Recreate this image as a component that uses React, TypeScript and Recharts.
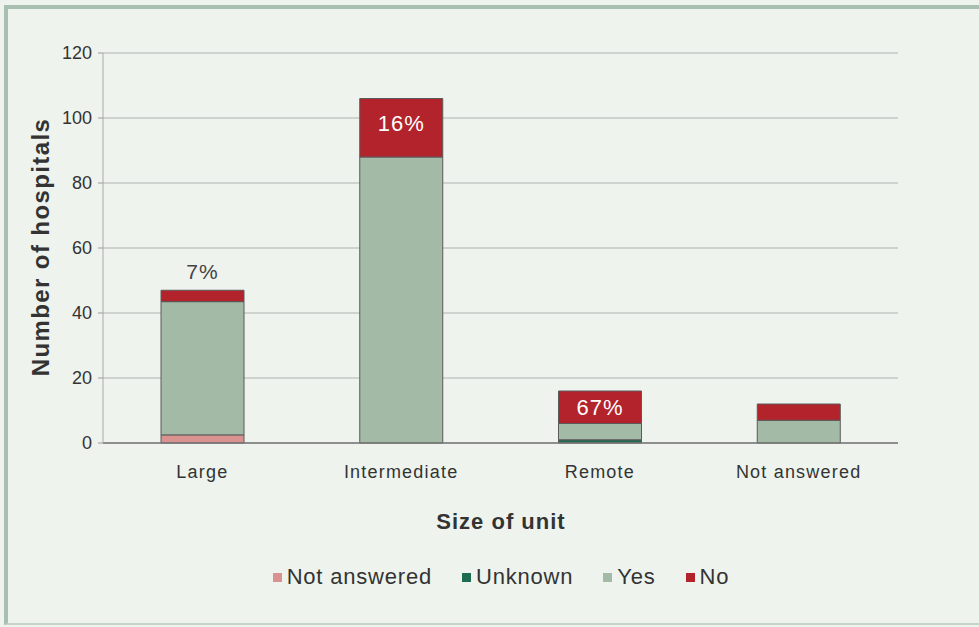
import React from "react";
import { BarChart, Bar, XAxis, YAxis, CartesianGrid, LabelList } from "recharts";

const categories = ["Large", "Intermediate", "Remote", "Not answered"];
const notAnswered = [2.5, 0, 0, 0];
const unknown = [0, 0, 1, 0];
const yes = [41, 88, 5, 7];
const no = [3.5, 18, 10, 5];
const noPct = ["7%", "16%", "67%", ""];
const yTicks = [0, 20, 40, 60, 80, 100, 120];

const series = [
  { key: "notAnswered", name: "Not answered", color: "#d9928f" },
  { key: "unknown", name: "Unknown", color: "#1f6b4f" },
  { key: "yes", name: "Yes", color: "#a2baa6" },
  { key: "no", name: "No", color: "#b3232c" },
];

const data = categories.map((name, i) => ({
  name,
  notAnswered: notAnswered[i],
  unknown: unknown[i],
  yes: yes[i],
  no: no[i],
  pct: noPct[i],
}));

const FONT = "'Liberation Sans', Arial, sans-serif";
const TEXT = "#333";

function PctLabel(props: any) {
  const { x, y, width, height, value } = props;
  if (!value) return null;
  const cx = x + width / 2;
  if (height < 20) {
    return (
      <text x={cx} y={y - 11} textAnchor="middle" fill="#444" fontSize={21} letterSpacing={1} fontFamily={FONT}>
        {value}
      </text>
    );
  }
  const cy = height > 40 ? y + 25 : y + height / 2;
  return (
    <text x={cx} y={cy} dy="0.35em" textAnchor="middle" fill="#fff" fontSize={22} letterSpacing={1} fontFamily={FONT}>
      {value}
    </text>
  );
}

export default function App() {
  return (
    <div
      style={{
        position: "absolute",
        left: 0,
        top: 0,
        width: 979,
        height: 627,
        background: "#eef3ee",
        fontFamily: FONT,
      }}
    >
      <div
        style={{
          position: "absolute",
          left: 4,
          top: 5,
          width: 975,
          height: 620,
          borderTop: "4px solid #a9c0b0",
          borderLeft: "4px solid #a9c0b0",
          borderBottom: "2px solid #c5d3c8",
          boxSizing: "border-box",
        }}
      />
      <div style={{ position: "absolute", left: 0, top: 0 }}>
        <BarChart
          width={979}
          height={627}
          data={data}
          margin={{ top: 53, right: 81, bottom: 154, left: 43 }}
          barSize={83}
        >
          <CartesianGrid vertical={false} stroke="#c4c8c4" strokeWidth={1.5} />
          <XAxis
            dataKey="name"
            height={30}
            axisLine={{ stroke: "#777", strokeWidth: 1.5 }}
            tickLine={false}
            tickMargin={16}
            tick={{ fill: TEXT, fontSize: 18, letterSpacing: 1.2, fontFamily: FONT }}
          />
          <YAxis
            width={60}
            domain={[0, 120]}
            ticks={yTicks}
            axisLine={{ stroke: "#aaa" }}
            tickLine={{ stroke: "#999" }}
            tickSize={5}
            tickMargin={6}
            tick={{ fill: TEXT, fontSize: 18, fontFamily: FONT }}
          />
          {series.map((s) => (
            <Bar
              key={s.key}
              dataKey={s.key}
              name={s.name}
              stackId="a"
              fill={s.color}
              stroke="#5a5a5a"
              strokeWidth={1}
              isAnimationActive={false}
            >
              {s.key === "no" ? <LabelList dataKey="pct" content={PctLabel} /> : null}
            </Bar>
          ))}
        </BarChart>
      </div>
      <div
        style={{
          position: "absolute",
          left: 0,
          width: 1002,
          top: 509,
          textAlign: "center",
          fontSize: 22,
          letterSpacing: 1,
          fontWeight: "bold",
          color: TEXT,
        }}
      >
        Size of unit
      </div>
      <div
        style={{
          position: "absolute",
          left: 41,
          top: 247,
          transform: "translate(-50%, -50%) rotate(-90deg)",
          fontSize: 24,
          letterSpacing: 1.4,
          fontWeight: "bold",
          color: TEXT,
          whiteSpace: "nowrap",
        }}
      >
        Number of hospitals
      </div>
      <div
        style={{
          position: "absolute",
          left: 0,
          width: 1002,
          top: 564,
          display: "flex",
          justifyContent: "center",
          gap: 30,
          fontSize: 22,
          letterSpacing: 0.8,
          color: TEXT,
        }}
      >
        {series.map((s) => (
          <div key={s.key} style={{ display: "flex", alignItems: "center" }}>
            <span style={{ width: 9, height: 9, background: s.color, marginRight: 5, display: "inline-block" }} />
            {s.name}
          </div>
        ))}
      </div>
    </div>
  );
}
